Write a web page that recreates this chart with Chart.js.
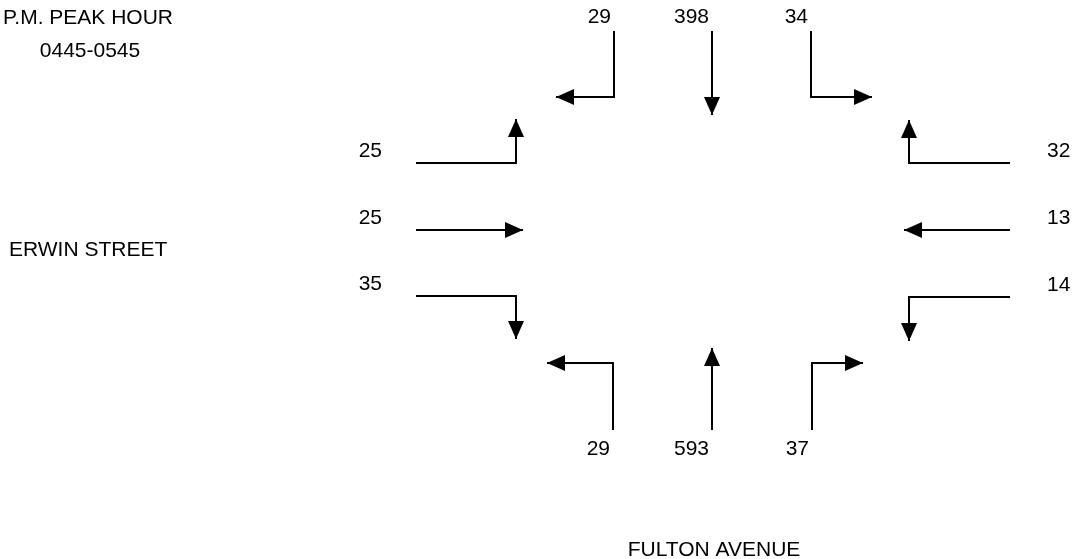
<!DOCTYPE html>
<html>
<head>
<meta charset="utf-8">
<title>P.M. Peak Hour - Erwin Street / Fulton Avenue</title>
<script src="https://cdn.jsdelivr.net/npm/chart.js@4/dist/chart.umd.min.js"></script>
<style>
  html, body { margin: 0; padding: 0; background: #fff; }
  #wrap { width: 1074px; height: 559px; }
</style>
</head>
<body>
<div id="wrap"><canvas id="tmc" width="1074" height="559"></canvas></div>
<script>
// turning movement counts, one entry per approach
const approaches = ['Southbound', 'Eastbound', 'Westbound', 'Northbound'];
const leftVolumes = [34, 25, 14, 29];
const throughVolumes = [398, 25, 13, 593];
const rightVolumes = [29, 35, 32, 37];

const titleLines = ['P.M. PEAK HOUR', '0445-0545'];
const eastWestStreet = 'ERWIN STREET';
const northSouthStreet = 'FULTON AVENUE';

// drawing layout (axis units = px of the diagram)
const layout = {
    Southbound: { dir: 'v', start: 31, corner: 97, tip: 115,
        lanes: { Left: 811, Through: 712, Right: 614 },
        reach: { Left: 872, Right: 556 }, labelAt: 17 },
    Northbound: { dir: 'v', start: 430, corner: 363, tip: 348,
        lanes: { Left: 613, Through: 712, Right: 812 },
        reach: { Left: 547, Right: 863 }, labelAt: 449 },
    Eastbound: { dir: 'h', start: 416, corner: 516, tip: 523,
        lanes: { Left: 163, Through: 230, Right: 296 },
        reach: { Left: 119, Right: 339 }, labelAt: 382, align: 'right' },
    Westbound: { dir: 'h', start: 1010, corner: 909, tip: 904,
        lanes: { Left: 297, Through: 230, Right: 163 },
        reach: { Left: 341, Right: 120 }, labelAt: 1047, align: 'left' }
};

function movementPath(approach, move) {
    var g = layout[approach];
    var lane = g.lanes[move];
    var pts;
    if (move === 'Through') {
        pts = [[lane, g.start], [lane, g.tip]];
    } else {
        pts = [[lane, g.start], [lane, g.corner], [g.reach[move], g.corner]];
    }
    return pts.map(function(p) {
        return g.dir === 'v' ? { x: p[0], y: p[1] } : { x: p[1], y: p[0] };
    });
}

var datasets = [];
approaches.forEach(function(app, i) {
    [['Left', leftVolumes[i]], ['Through', throughVolumes[i]], ['Right', rightVolumes[i]]].forEach(function(m) {
        datasets.push({
            label: app + ' ' + m[0],
            approach: app,
            move: m[0],
            volume: m[1],
            data: movementPath(app, m[0]),
            showLine: true,
            borderColor: '#000',
            borderWidth: 2,
            pointRadius: 0,
            tension: 0,
            fill: false
        });
    });
});

var FONT = '21px "Liberation Sans", Arial, sans-serif';

// arrow heads + volume labels + street names
var tmcPlugin = {
    id: 'tmc',
    afterDatasetsDraw: function(chart) {
        var ctx = chart.ctx;
        var xs = chart.scales.x, ys = chart.scales.y;
        ctx.save();
        ctx.fillStyle = '#000';

        chart.data.datasets.forEach(function(ds, i) {
            var pts = chart.getDatasetMeta(i).data;
            var a = pts[pts.length - 2], b = pts[pts.length - 1];
            var ang = Math.atan2(b.y - a.y, b.x - a.x);
            var len = 18, half = 8;
            ctx.save();
            ctx.translate(b.x, b.y);
            ctx.rotate(ang);
            ctx.beginPath();
            ctx.moveTo(0, 0);
            ctx.lineTo(-len, -half);
            ctx.lineTo(-len, half);
            ctx.closePath();
            ctx.fill();
            ctx.restore();

            // volume label at the start of the leg
            var g = layout[ds.approach];
            var lane = g.lanes[ds.move];
            ctx.font = FONT;
            ctx.textBaseline = 'middle';
            if (g.dir === 'v') {
                ctx.textAlign = 'right';
                ctx.fillText(String(ds.volume), xs.getPixelForValue(lane - 3), ys.getPixelForValue(g.labelAt));
            } else {
                ctx.textAlign = g.align;
                ctx.fillText(String(ds.volume), xs.getPixelForValue(g.labelAt), ys.getPixelForValue(lane - 12));
            }
        });

        ctx.font = FONT;
        ctx.textBaseline = 'middle';
        ctx.textAlign = 'left';
        ctx.fillText(titleLines[0], xs.getPixelForValue(3), ys.getPixelForValue(18));
        ctx.textAlign = 'center';
        ctx.fillText(titleLines[1], xs.getPixelForValue(90), ys.getPixelForValue(51));
        ctx.textAlign = 'left';
        ctx.fillText(eastWestStreet, xs.getPixelForValue(9), ys.getPixelForValue(250));
        ctx.textAlign = 'center';
        ctx.fillText(northSouthStreet, xs.getPixelForValue(714), ys.getPixelForValue(550));
        ctx.restore();
    }
};

new Chart(document.getElementById('tmc'), {
    type: 'scatter',
    data: { datasets: datasets },
    options: {
        responsive: false,
        animation: false,
        devicePixelRatio: 1,
        layout: { padding: 0 },
        plugins: {
            legend: { display: false },
            tooltip: { enabled: false },
            title: { display: false }
        },
        scales: {
            x: { type: 'linear', min: 0, max: 1074, display: false },
            y: { type: 'linear', min: 0, max: 559, reverse: true, display: false }
        },
        elements: { line: { borderCapStyle: 'butt', borderJoinStyle: 'miter' } }
    },
    plugins: [tmcPlugin]
});
</script>
</body>
</html>
